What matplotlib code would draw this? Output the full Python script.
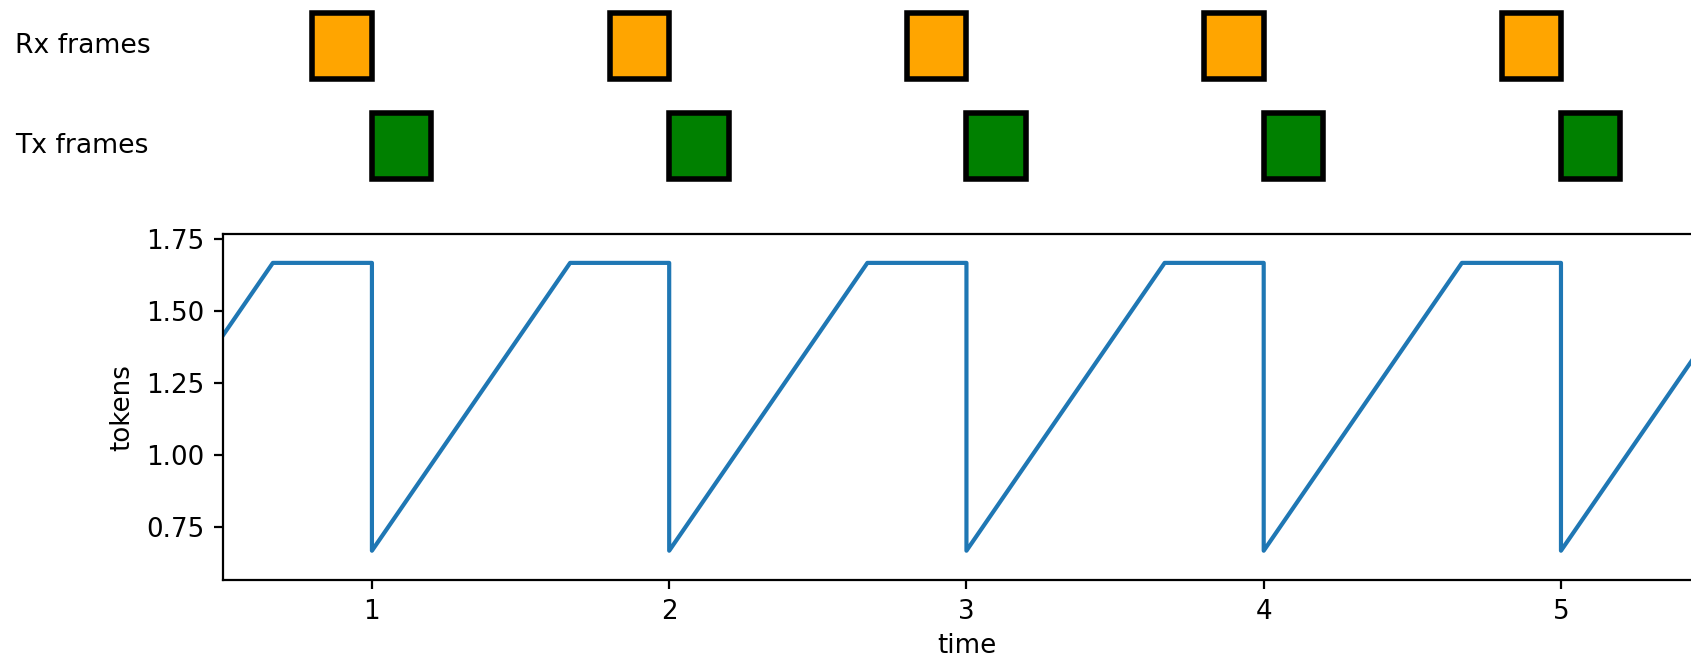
import matplotlib
matplotlib.use("Agg")
import matplotlib.pyplot as plt
from matplotlib.patches import Rectangle
import matplotlib.transforms as mtransforms

# ---- data ----
rx_times = [0.8, 1.8, 2.8, 3.8, 4.8]
tx_times = [1.0, 2.0, 3.0, 4.0, 5.0]
frame_len = 0.2
row_labels = ["Rx frames", "Tx frames"]

t = [0.5, 0.6667, 1.0, 1.0, 1.6667, 2.0, 2.0, 2.6667, 3.0, 3.0,
     3.6667, 4.0, 4.0, 4.6667, 5.0, 5.0, 5.5]
tokens = [1.4167, 1.6667, 1.6667, 0.6667, 1.6667, 1.6667, 0.6667, 1.6667,
          1.6667, 0.6667, 1.6667, 1.6667, 0.6667, 1.6667, 1.6667, 0.6667, 1.4167]

plt.rcParams["font.size"] = 9.4

W, H, DPI = 1691, 659, 200
fig = plt.figure(figsize=(W / DPI, H / DPI), dpi=DPI)

left = 223.3 / W
right = 1709.6 / W
ax = fig.add_axes([left, (H - 580) / H, right - left, (580 - 234.3) / H])
ax.plot(t, tokens, color="#1f77b4", lw=1.5)
ax.set_xlim(0.5, 5.5)
ax.set_ylim(0.565, 1.766)
ax.set_xticks([1, 2, 3, 4, 5])
ax.set_yticks([0.75, 1.0, 1.25, 1.5, 1.75])
ax.tick_params(length=3.2)
ax.set_xlabel("time", labelpad=3)
ax.set_ylabel("tokens")

# top frames axes
axt = fig.add_axes([left, (H - 200) / H, right - left, 200 / H], sharex=ax)
axt.set_ylim(-0.54, 1.46)
axt.axis("off")
rows = {"Rx": (1.0, rx_times, "orange"), "Tx": (0.0, tx_times, "green")}
hgt = 0.665
for (yc, times, col) in rows.values():
    for x0 in times:
        axt.add_patch(Rectangle((x0, yc - hgt / 2), frame_len, hgt,
                                facecolor=col, edgecolor="black", lw=2,
                                clip_on=False))
trans = mtransforms.blended_transform_factory(fig.transFigure, axt.transData)
for lab, yc in zip(row_labels, [1.0, 0.0]):
    axt.text(15 / W, yc, lab, transform=trans, ha="left", va="center", fontsize=9.6)

fig.savefig("out.png", dpi=DPI)
